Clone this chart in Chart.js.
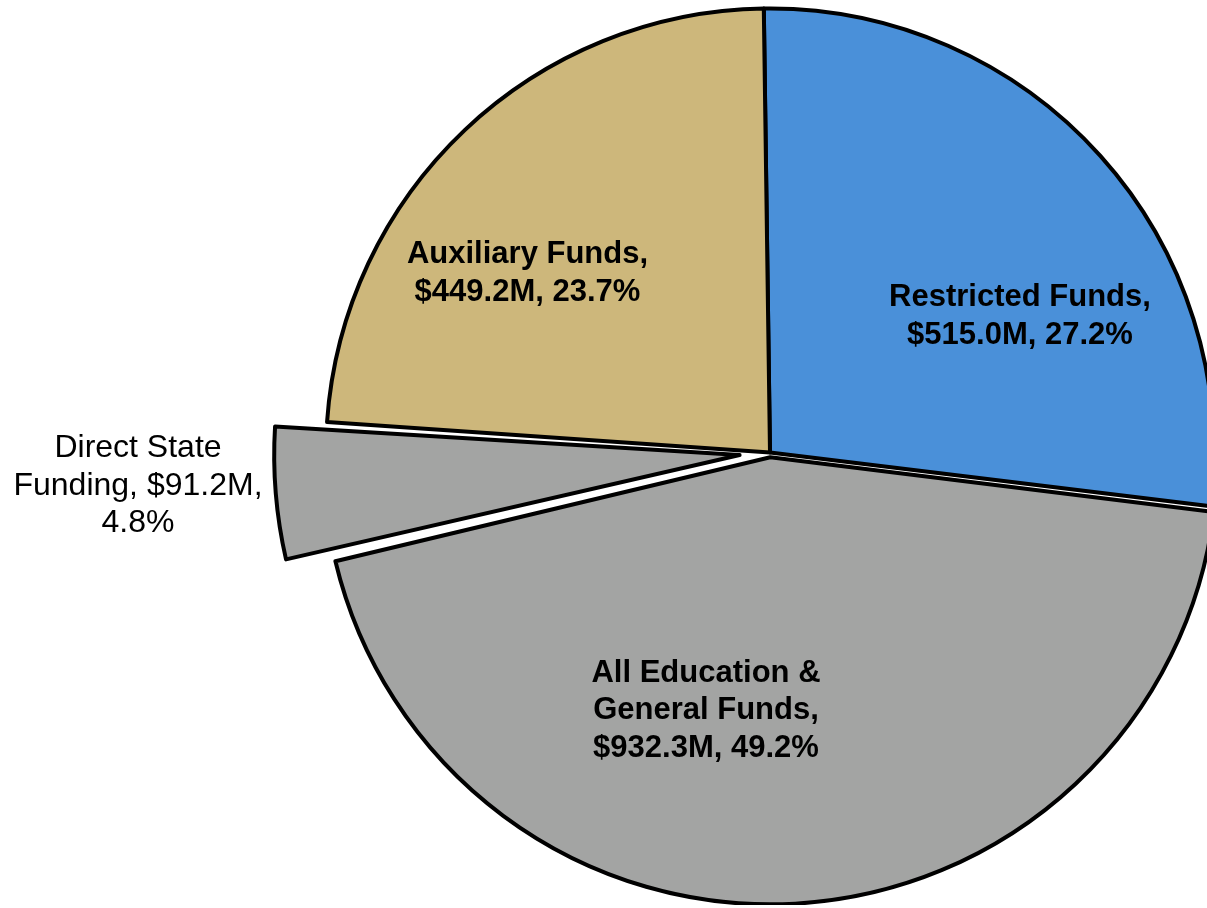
<!DOCTYPE html>
<html>
<head>
<meta charset="utf-8">
<script src="https://cdn.jsdelivr.net/npm/chart.js@4.4.1/dist/chart.umd.min.js"></script>
<style>
  html, body { margin: 0; padding: 0; overflow: hidden; background: #ffffff; width: 1207px; height: 908px; }
  #wrap { position: absolute; left: 0; top: 0; width: 1540px; height: 905px; }
</style>
</head>
<body>
<div id="wrap"><canvas id="c" width="1540" height="905" style="width:1540px;height:905px"></canvas></div>
<script>
// Slices, clockwise from 12 o'clock ($M). The E&G slice shown is E&G excluding Direct State Funding
const categories = ["Restricted Funds", "All Education & General Funds", "Direct State Funding", "Auxiliary Funds"];
const sliceValues = [515.0, 841.1, 91.2, 449.2];
const sliceColors = ["#4a90d9", "#a3a4a3", "#a3a4a3", "#cdb77b"];
const sliceOffsets = [0, 19, 122, 0];
const labelLines = [
  ["Restricted Funds,", "$515.0M, 27.2%"],
  ["All Education &", "General Funds,", "$932.3M, 49.2%"],
  ["Direct State", "Funding, $91.2M,", "4.8%"],
  ["Auxiliary Funds,", "$449.2M, 23.7%"]
];
const labelBold = [true, true, false, true];

// label anchor (relative to pie centre, px) for the first baseline
const labelAnchors = [[250, -146.5], [-64, 229], [-632, 4.5], [-242.5, -189.5]];
const lineHeight = 37.5;

const labelPlugin = {
  id: 'sliceLabels',
  afterDatasetsDraw(chart) {
    const ctx = chart.ctx;
    const meta = chart.getDatasetMeta(0);
    ctx.save();
    ctx.fillStyle = '#000';
    ctx.textAlign = 'center';
    ctx.textBaseline = 'alphabetic';
    meta.data.forEach((arc, i) => {
      ctx.font = labelBold[i] ? 'bold 31px "Liberation Sans", Arial, sans-serif'
                              : '32px "Liberation Sans", Arial, sans-serif';
      const [dx, dy] = labelAnchors[i];
      labelLines[i].forEach((line, j) => {
        ctx.fillText(line, arc.x + dx, arc.y + dy + j * lineHeight);
      });
    });
    ctx.restore();
  }
};

new Chart(document.getElementById('c'), {
  type: 'pie',
  data: {
    labels: categories,
    datasets: [{
      data: sliceValues,
      backgroundColor: sliceColors,
      borderColor: '#000000',
      borderWidth: 4,
      borderJoinStyle: 'round',
      offset: sliceOffsets
    }]
  },
  options: {
    responsive: false,
    animation: false,
    rotation: -0.8,
    radius: 444,
    layout: { padding: 0 },
    plugins: {
      legend: { display: false },
      tooltip: { enabled: false }
    }
  },
  plugins: [labelPlugin]
});
</script>
</body>
</html>
